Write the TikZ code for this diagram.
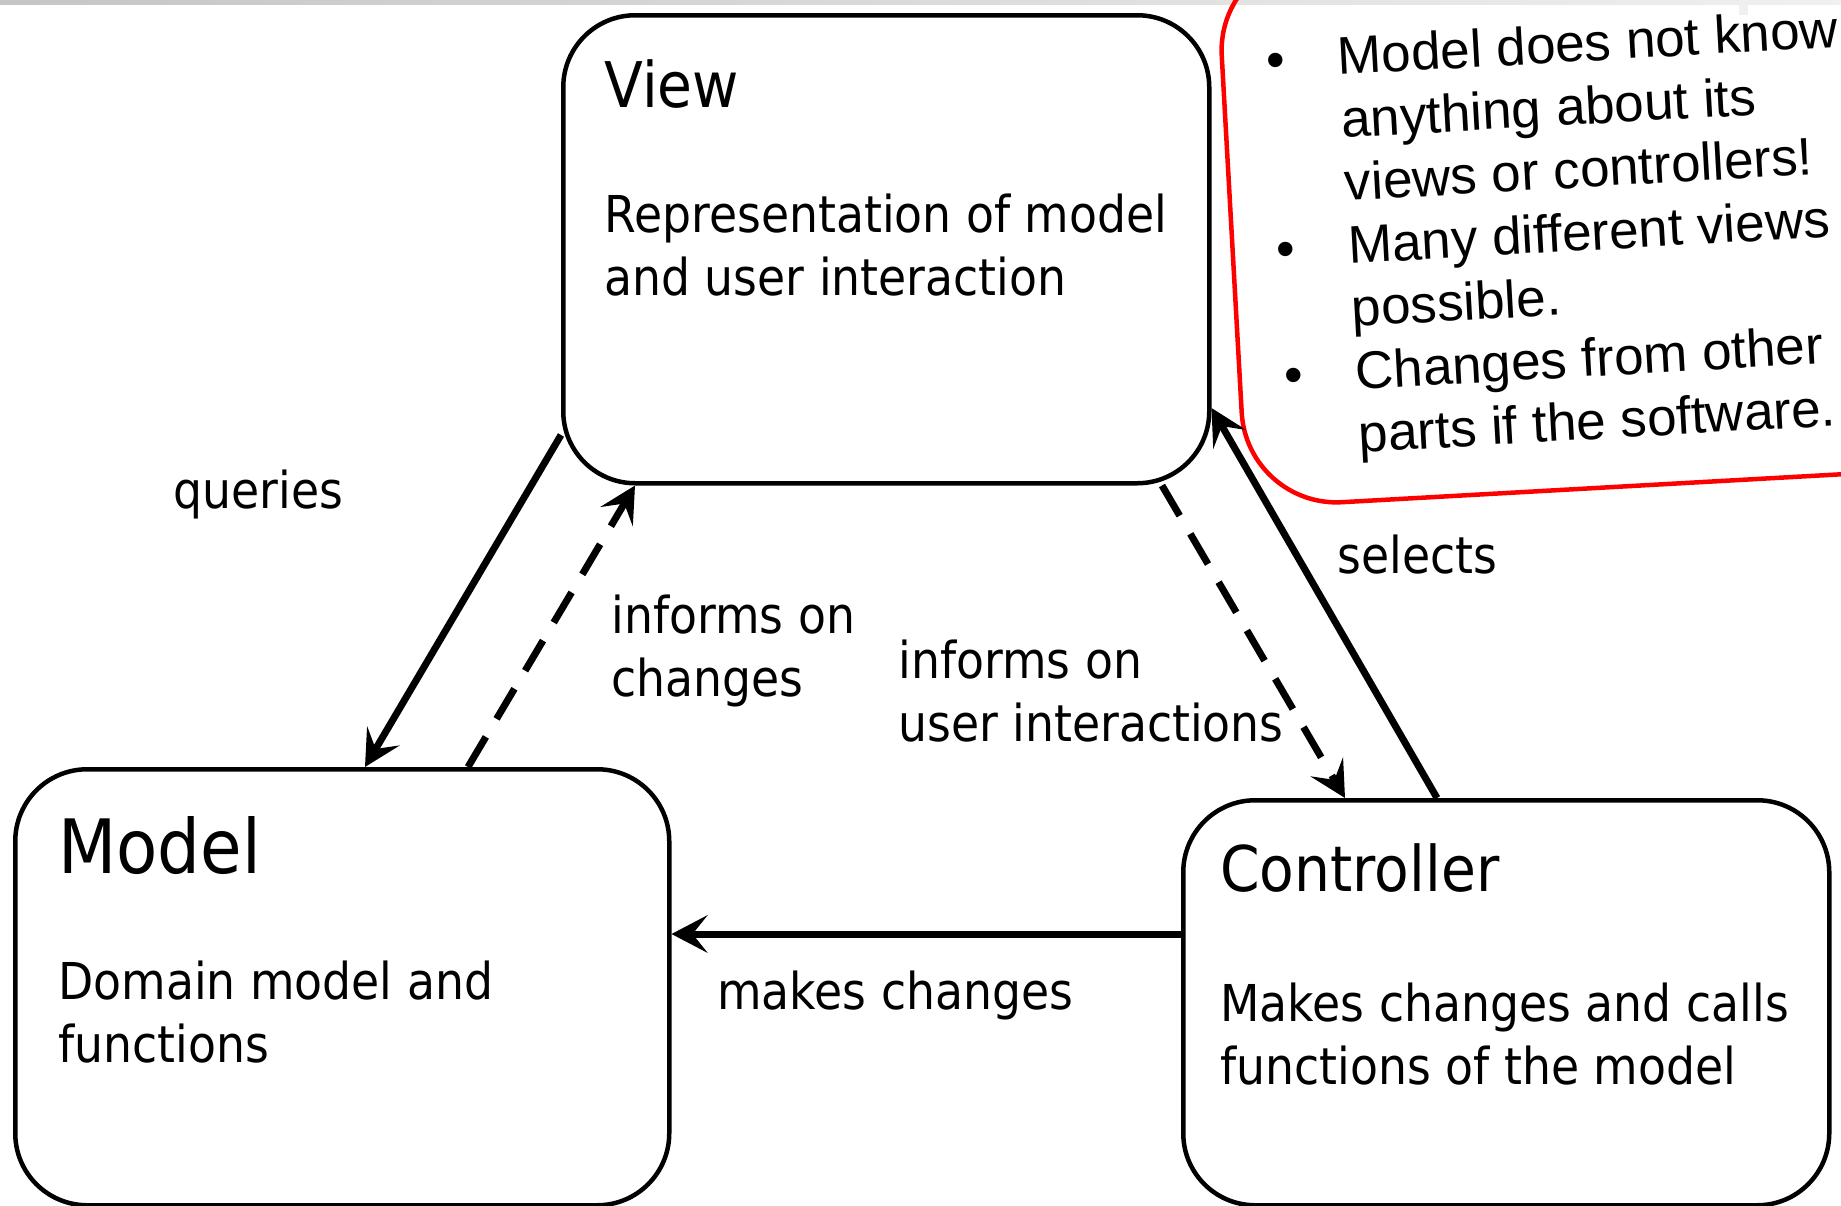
\documentclass[tikz,border=0pt]{standalone}
\usepackage{fontspec}
\setmainfont{DejaVu Sans}[FakeStretch=0.9]
\newfontfamily\notefont{Liberation Sans}
\usetikzlibrary{arrows.meta}
\definecolor{notered}{HTML}{FF0000}
\newcommand\twolines[2]{\begin{tabular}[t]{@{}l@{}}#1\\#2\end{tabular}}

\begin{document}
\begin{tikzpicture}[x=.5pt,y=-.5pt,
  box/.style={draw,line width=2.25pt,rounded corners=36pt,inner sep=0pt,anchor=north west},
  head/.style={anchor=base west,inner sep=0pt,font=\fontsize{31.5}{38}\selectfont},
  lbl/.style={anchor=base west,inner sep=0pt,font=\fontsize{25.4}{31.75}\selectfont},
  notetxt/.style={anchor=base west,inner sep=0pt,rotate=3.2,font=\notefont\fontsize{26.5}{31.5}\selectfont},
  flow/.style={line width=3.5pt,-{Stealth[length=18pt,width=18.75pt,inset=7.5pt]}},
  flowdash/.style={flow,dash pattern=on 17.5pt off 10.5pt}]
 \useasboundingbox(0,0)rectangle(1841,1205);
 \clip(0,0)rectangle(1841,1205);
 \shade[left color=gray!45,right color=gray!12](0,0)rectangle(1841,4);
 \fill[gray!12](1739,0)rectangle(1748,15);
 \node[box,minimum width=323pt,minimum height=234pt](view)at(561,13){};
 \node[box,minimum width=327pt,minimum height=218pt](model)at(13,767){};
 \node[box,minimum width=323pt,minimum height=202.5pt](ctrl)at(1181,798){};
 \draw[notered,line width=2.25pt,rounded corners=47.5pt,rotate around={3.2:(1247,507.5)}]
   (1247,507.5)--(1947,507.5)--(1947,-40)--(1247,-40)--cycle;
 \node[notetxt](note)at(1267,79){\begin{tabular}[t]{@{}l@{\hspace{26.5pt}}l@{}}
   \textbullet & Model does not know\\ & anything about its\\ & views or controllers!\\
   \textbullet & Many different views\\ & possible.\\
   \textbullet & Changes from other\\ & parts if the software.\end{tabular}};
 \node[head](viewhd)at(604,107){View};
 \node[lbl](viewtx)at(604,232){\twolines{Representation of model}{and user interaction}};
 \node[head,font=\fontsize{37.5}{45}\selectfont](modelhd)at(58,873){Model};
 \node[lbl](modeltx)at(58,999){\twolines{Domain model and}{functions}};
 \node[head](ctrlhd)at(1220,891){Controller};
 \node[lbl](ctrltx)at(1220,1021){\twolines{Makes changes and calls}{functions of the model}};
 \node[lbl](queries)at(173,508){queries};
 \node[lbl](informch)at(611,633){\twolines{informs on}{changes}};
 \node[lbl](informui)at(898,678){\twolines{informs on}{user interactions}};
 \node[lbl](selects)at(1337,573){selects};
 \node[lbl](makes)at(717,1009){makes changes};
 \draw[flow](view.west|-0,435)--(model.north-|365,0);
 \draw[flowdash](model.north-|468,0)--(view.south-|635,0);
 \draw[flowdash](view.south-|1162,0)--(ctrl.north-|1345,0);
 \draw[flow](ctrl.north-|1437,0)--(view.east|-0,408);
 \draw[flow](ctrl.west|-0,934)--(model.east|-0,934);
\end{tikzpicture}
\end{document}
